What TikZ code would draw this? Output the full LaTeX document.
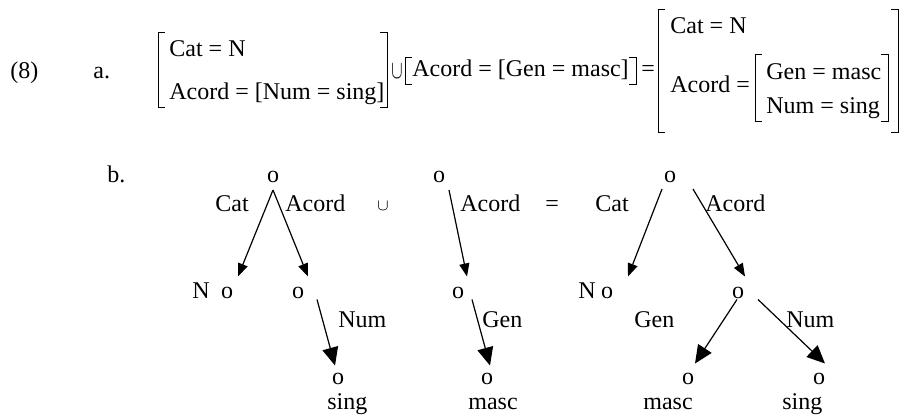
\documentclass[tikz,border=0pt]{standalone}
\usepackage{fontspec}
\setmainfont{Liberation Serif}
\usepackage{tikz}
\usetikzlibrary{arrows.meta,positioning}
\tikzset{
    % Base text style
    basenode/.style={
        inner sep=0pt,
        font=\fontsize{12}{14}\selectfont
    },
    % Feature text, set on its baseline
    featnode/.style={
        basenode,
        anchor=base west
    },
    % Tree vertex
    vertexnode/.style={
        basenode,
        inner sep=1pt
    },
    % Union sign
    unionnode/.style={
        basenode,
        font=\fontsize{8}{8}\selectfont
    },
    % Bracket lines
    bracket/.style={
        line width=0.5pt,
        draw=black
    },
    % Upper arc
    myarrow/.style={
        -{Triangle[length=6.5pt,width=5pt]},
        line width=0.6pt
    },
    % Lower arc
    bigarrow/.style={
        -{Triangle[length=9pt,width=8pt]},
        line width=0.6pt
    }
}
\newcommand{\fsopen}[3]{\draw[bracket] (#1+7,#2) -- (#1,#2) -- (#1,#3) -- (#1+7,#3);}
\newcommand{\fsclose}[3]{\draw[bracket] (#1-7,#2) -- (#1,#2) -- (#1,#3) -- (#1-7,#3);}

\begin{document}
\begin{tikzpicture}[x=0.5pt,y=-0.5pt]
    \useasboundingbox (0,0) rectangle (905,417);

    % (8a) unification of matrices
    \node[featnode] (ex) at (10,79) {(8)};
    \node[featnode] (exa) at (93,79) {a.};
    \node[featnode] (a1cat) at (169,57) {Cat = N};
    \node[featnode] (a1acord) at (169,100) {Acord = [Num = sing]};
    \fsopen{158}{33}{108}
    \fsclose{387}{33}{108}
    \node[unionnode] (aunion) at (397,71) {\scalebox{1}[1.6]{$\cup$}};
    \fsopen{405}{58}{85}
    \node[featnode] (a2acord) at (412,77) {Acord = [Gen = masc]};
    \fsclose{636}{58}{85}
    \node[featnode] (aeq) at (641,77) {=};
    \fsopen{658}{10}{133}
    \node[featnode] (a3cat) at (670,34) {Cat = N};
    \node[featnode] (a3acord) at (670,93) {Acord =};
    \fsopen{755}{55}{122}
    \node[featnode] (a3gen) at (766,80) {Gen = masc};
    \node[featnode] (a3num) at (766,114) {Num = sing};
    \fsclose{888}{55}{122}
    \fsclose{898}{10}{133}

    % (8b) graphs
    \node[featnode] (exb) at (107,183) {b.};

    % first graph
    \node[vertexnode] (t1root) at (273,177) {o};
    \node[featnode] (t1catlab) at (215,212) {Cat};
    \node[featnode] (t1acordlab) at (285,212) {Acord};
    \node[featnode] (t1nlab) at (192,298) {N};
    \node[vertexnode] (t1n) at (227,292.5) {o};
    \node[vertexnode] (t1acord) at (298,292.5) {o};
    \node[featnode] (t1numlab) at (338,327) {Num};
    \node[vertexnode] (t1num) at (338,378.5) {o};
    \node[featnode] (t1sing) at (327,409) {sing};

    \node[unionnode] (bunion) at (383,206) {$\cup$};

    % second graph
    \node[vertexnode] (t2root) at (439,177) {o};
    \node[featnode] (t2acordlab) at (460,212) {Acord};
    \node[vertexnode] (t2acord) at (458,292.5) {o};
    \node[featnode] (t2genlab) at (482,327) {Gen};
    \node[vertexnode] (t2gen) at (487,378.5) {o};
    \node[featnode] (t2masc) at (468,409) {masc};

    \node[featnode] (beq) at (545,212) {=};

    % result graph
    \node[vertexnode] (t3root) at (670,177) {o};
    \node[featnode] (t3catlab) at (595,212) {Cat};
    \node[featnode] (t3acordlab) at (705,212) {Acord};
    \node[featnode] (t3nlab) at (578,298) {N};
    \node[vertexnode] (t3n) at (607,292.5) {o};
    \node[vertexnode] (t3acord) at (738,292.5) {o};
    \node[featnode] (t3genlab) at (634,327) {Gen};
    \node[featnode] (t3numlab) at (786,327) {Num};
    \node[vertexnode] (t3gen) at (688,378.5) {o};
    \node[vertexnode] (t3num) at (819,378.5) {o};
    \node[featnode] (t3masc) at (643,409) {masc};
    \node[featnode] (t3sing) at (782,409) {sing};

    \draw[myarrow] ([shift={(0,13)}]t1root.center) -- ([shift={(11,-16)}]t1n.center);
    \draw[myarrow] ([shift={(0,13)}]t1root.center) -- ([shift={(10,-16)}]t1acord.center);
    \draw[bigarrow] ([shift={(19,7)}]t1acord.center) -- ([shift={(-3,-13)}]t1num.center);

    \draw[myarrow] ([shift={(10,13)}]t2root.center) -- ([shift={(9,-16)}]t2acord.center);
    \draw[bigarrow] ([shift={(14,7)}]t2acord.center) -- ([shift={(3,-13)}]t2gen.center);

    \draw[myarrow] ([shift={(-8,12)}]t3root.center) -- ([shift={(21,-16)}]t3n.center);
    \draw[myarrow] ([shift={(23,12)}]t3root.center) -- ([shift={(7,-16)}]t3acord.center);
    \draw[bigarrow] ([shift={(-1,7)}]t3acord.center) -- ([shift={(7,-15)}]t3gen.center);
    \draw[bigarrow] ([shift={(20,7)}]t3acord.center) -- ([shift={(6,-15)}]t3num.center);
\end{tikzpicture}
\end{document}
